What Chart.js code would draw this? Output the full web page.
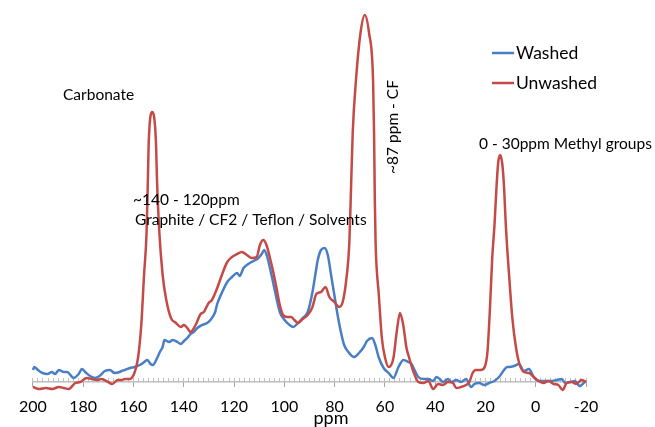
<!DOCTYPE html>
<html>
<head>
<meta charset="utf-8">
<script src="https://cdn.jsdelivr.net/npm/chart.js@4.4.1/dist/chart.umd.min.js"></script>
<style>
  html, body { margin: 0; padding: 0; background: #ffffff; }
</style>
</head>
<body>
<canvas id="nmrChart" width="655" height="427"></canvas>
<script>
// Chemical shift (ppm) and intensity for the washed sample
const washedPpm = [200, 199.5, 198, 196.2, 194.2, 192.5, 191.2, 189.7, 187.7, 186.4, 184.4, 183.8, 181.8, 180.5, 179.2, 177.3, 175.3, 173.5, 171.4, 169.4, 167.5, 165.5, 164.7, 163.5, 161.4, 159.5, 157.5, 156.2, 154.5, 153.2, 152.3, 150.6, 149.3, 148.4, 147.7, 145.8, 144.4, 142.5, 141.2, 139.9, 138.6, 137.3, 136, 134.6, 132.7, 130.7, 129.4, 127.5, 126.7, 124.7, 122.7, 120.8, 118.8, 117.8, 116.2, 114.3, 112.3, 110.3, 109, 108, 106.8, 105.1, 103.4, 101.8, 99.9, 97.9, 96.4, 94.6, 92.7, 90.7, 88.8, 87.5, 86.7, 85.4, 84, 82.7, 81.4, 80.1, 78.8, 77.5, 76.2, 74.2, 72.3, 70.3, 68.4, 67.1, 65.1, 63.8, 62.5, 60.5, 58.5, 56.6, 54.6, 52.6, 50.7, 49.4, 48.6, 46.7, 44.7, 42.7, 40.8, 39.5, 38.2, 36.9, 34.9, 33.6, 31.6, 29.7, 27.7, 25.7, 24.4, 22.5, 20.5, 18.5, 16.5, 14.6, 12.6, 11.4, 10.6, 8.6, 6.7, 4.7, 2.7, 0.8, -1.2, -3.1, -5.8, -8.4, -10.4, -11.7, -13.7, -15.6, -17.5, -19.5, -20];
const washedVal = [12, 15, 12, 9, 8, 10, 8, 12, 10, 10, 5, 4, 8, 13, 10, 6, 4, 6, 11, 12, 9, 10, 11, 12, 14, 15, 17, 19, 22, 18, 17, 24, 31, 35, 42, 40, 42, 40, 38, 41, 44, 48, 50, 54, 57, 59, 62, 70, 78, 90, 100, 105, 109, 106, 114, 118, 121, 124, 128, 132, 125, 107, 87, 70, 62, 57, 55, 59, 64, 70, 90, 110, 122, 132, 134, 127, 107, 87, 67, 50, 37, 29, 25, 29, 35, 41, 44, 37, 25, 14, 9, 4, 15, 22, 20, 18, 14, 5, 3, 3, 1, 5, 3, 0, 3, 0, 2, 0, 3, -5, -2, -1, -3, -1, 1, 5, 12, 15, 15, 16, 18, 11, 13, 5, 1, 1, 1, 2, 3, -1, 0, 1, -4, 0, 1];

// Same for the unwashed sample
const unwashedPpm = [200, 197.5, 194.9, 192.3, 189.7, 187.7, 185.8, 183.1, 181.2, 178.6, 176.6, 174.6, 172.7, 170.1, 168.5, 166.2, 164.7, 163.5, 161.4, 159.5, 158.2, 156.9, 155.8, 154.8, 154.3, 153.9, 152.5, 151.1, 150.6, 149.7, 148.4, 147.1, 145.1, 143.1, 141.2, 139.9, 138.6, 137.3, 135.3, 133.3, 132, 130.1, 128.8, 126.7, 124.7, 122.7, 120.8, 118.8, 116.9, 114.9, 112.9, 111, 109.7, 108.4, 107.1, 105.8, 104.4, 103.1, 101.8, 100.5, 98.9, 97.3, 96, 94.6, 92.7, 90.7, 88.8, 87.3, 85.4, 83.6, 82.1, 80.1, 78.2, 76.9, 75.6, 74.5, 74.1, 73.6, 72.8, 71.5, 69.7, 68, 66.3, 64.7, 64.3, 64, 63.7, 63.3, 62.5, 61.2, 59.9, 58.5, 56.6, 55.3, 54, 52.7, 51.4, 50.3, 49.4, 48.6, 46.7, 44.7, 42.7, 40.8, 38.8, 36.9, 34.9, 32.9, 31.6, 29.7, 27.7, 26.4, 25.1, 23.8, 21.8, 20.3, 19.2, 18.2, 17.3, 16.4, 15.6, 14.9, 14.1, 13.3, 12.6, 11.9, 10.6, 9.3, 8, 6.7, 4.7, 2.7, 0.8, -1.2, -3.1, -5.1, -7.1, -9, -10.7, -12.3, -14.2, -16.2, -18.2, -20];
const unwashedVal = [-5, -7, -6, -7, -5, -6, -7, -1, 0, 4, 3, 2, 3, 0, -2, 2, 2, 3, 3, 10, 24, 57, 107, 149, 199, 242, 270, 242, 199, 149, 107, 84, 64, 59, 55, 57, 54, 50, 57, 68, 70, 79, 82, 94, 108, 120, 125, 128, 130, 127, 124, 125, 137, 142, 137, 125, 110, 94, 77, 67, 65, 65, 62, 59, 63, 67, 75, 88, 90, 95, 85, 80, 75, 79, 97, 124, 142, 182, 249, 302, 349, 367, 349, 302, 249, 182, 140, 115, 90, 44, 24, 15, 24, 50, 69, 57, 34, 24, 16, 10, 0, -1, 1, -7, -2, -3, 0, -1, -6, -5, -3, 0, 9, 12, 12, 15, 30, 74, 124, 157, 195, 220, 227, 218, 195, 157, 107, 64, 37, 20, 10, 9, 5, 1, -1, 1, -2, -3, -8, -1, 0, -2, 2, 0];

// Labelled ticks on the ppm axis
const xTickLabels = [200, 180, 160, 140, 120, 100, 80, 60, 40, 20, 0, -20];

const seriesNames = ['Washed', 'Unwashed'];
const seriesColors = ['#4a7ec4', '#c44a47'];

// Annotation texts on the spectrum
const noteCarbonate = 'Carbonate';
const noteGraphite1 = '~140 - 120ppm';
const noteGraphite2 = 'Graphite / CF2 / Teflon / Solvents';
const noteCF = '~87 ppm - CF';
const noteMethyl = '0 - 30ppm Methyl groups';
const axisTitle = 'ppm';

const FONT = 'Lato, "Open Sans", sans-serif';

function toPoints(ppm, vals) {
  return ppm.map((p, i) => ({ x: p, y: vals[i] }));
}

// Plugin: free text labels, axis title and the legend in the upper right
const notesPlugin = {
  id: 'notes',
  afterDraw(chart) {
    const ctx = chart.ctx;
    ctx.save();
    ctx.fillStyle = '#000000';
    ctx.textBaseline = 'middle';
    ctx.textAlign = 'left';
    ctx.font = '15.5px ' + FONT;
    ctx.fillText(noteCarbonate, 63, 95);
    ctx.fillText(noteGraphite1, 133, 200);
    ctx.fillText(noteGraphite2, 135, 220);
    ctx.fillText(noteMethyl, 479, 144);

    // rotated label next to the CF peak
    ctx.save();
    ctx.translate(393, 127);
    ctx.rotate(-Math.PI / 2);
    ctx.textAlign = 'center';
    ctx.fillText(noteCF, 0, 0);
    ctx.restore();

    // axis title, sits a bit right of the centre like in the original
    ctx.font = '18px ' + FONT;
    ctx.textAlign = 'center';
    ctx.fillText(axisTitle, 331, 418);

    // legend
    ctx.textAlign = 'left';
    ctx.font = '17.5px ' + FONT;
    chart.data.datasets.forEach((ds, i) => {
      const y = 53 + i * 30;
      ctx.strokeStyle = ds.borderColor;
      ctx.lineWidth = 2.5;
      ctx.beginPath();
      ctx.moveTo(492, y);
      ctx.lineTo(514, y);
      ctx.stroke();
      ctx.fillText(ds.label, 516, y);
    });
    ctx.restore();
  }
};

function initNmrChart() {
  const ctx = document.getElementById('nmrChart').getContext('2d');

  new Chart(ctx, {
    type: 'line',
    data: {
      datasets: [{
        label: seriesNames[0],
        data: toPoints(washedPpm, washedVal),
        borderColor: seriesColors[0],
        borderWidth: 2.5,
        pointRadius: 0,
        cubicInterpolationMode: 'monotone',
        clip: false,
        order: 1
      }, {
        label: seriesNames[1],
        data: toPoints(unwashedPpm, unwashedVal),
        borderColor: seriesColors[1],
        borderWidth: 2.5,
        pointRadius: 0,
        cubicInterpolationMode: 'monotone',
        clip: false,
        order: 0
      }]
    },
    options: {
      responsive: false,
      animation: false,
      layout: {
        padding: { top: 10, left: 25, right: 69, bottom: 0 }
      },
      plugins: {
        legend: { display: false },
        tooltip: { enabled: false }
      },
      scales: {
        x: {
          type: 'linear',
          position: 'bottom',
          reverse: true,
          min: -20,
          max: 200,
          afterFit: function(scale) { scale.height = 45; },
          ticks: {
            stepSize: 2,
            autoSkip: false,
            maxRotation: 0,
            padding: 19,
            color: '#000000',
            font: { family: FONT, size: 16 },
            callback: function(value) {
              return xTickLabels.includes(value) ? String(value) : '';
            }
          },
          grid: {
            drawOnChartArea: false,
            tickLength: -4,
            color: '#bfbfbf',
            lineWidth: 1
          },
          border: { color: '#bfbfbf', width: 1.5 }
        },
        // second axis only for the longer ticks at every label
        x2: {
          type: 'linear',
          position: { y: 0 },
          reverse: true,
          min: -20,
          max: 200,
          ticks: { display: false, stepSize: 20 },
          grid: { drawOnChartArea: false, tickLength: 5, color: '#a6a6a6' },
          border: { display: false }
        },
        y: {
          display: false,
          min: 0,
          max: 372
        }
      }
    },
    plugins: [notesPlugin]
  });
}

initNmrChart();
</script>
</body>
</html>
